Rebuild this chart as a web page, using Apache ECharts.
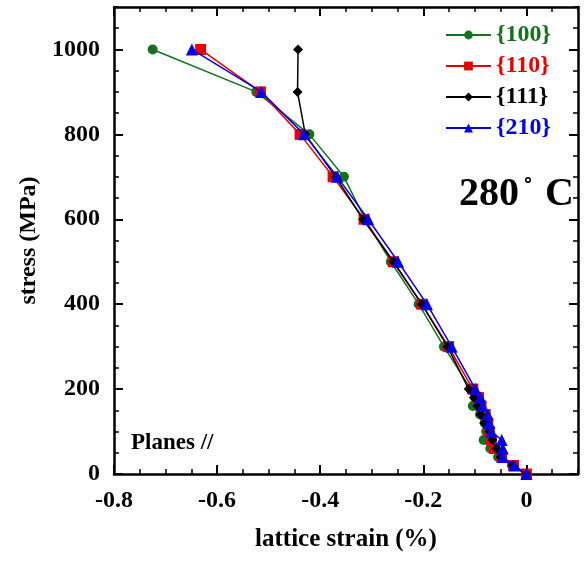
<!DOCTYPE html>
<html>
<head>
<meta charset="utf-8">
<script src="https://cdn.jsdelivr.net/npm/echarts@6/dist/echarts.min.js"></script>
<style>
  html, body { margin: 0; padding: 0; background: #fff; }
  #chart { width: 586px; height: 563px; }
</style>
</head>
<body>
<div id="chart"></div>
<script>
// stress levels (MPa), shared by all planes
var stress = [0, 20, 40, 60, 80, 100, 120, 140, 160, 180, 200, 300, 400, 500, 600, 700, 800, 900, 1000]
// lattice strain (%) per plane family, same order as stress
var strain100 = [0, -0.028, -0.055, -0.070, -0.083, -0.078, -0.081, -0.090, -0.104, -0.100, -0.108, -0.160, -0.209, -0.263, -0.313, -0.354, -0.421, -0.524, -0.725]
var strain110 = [0, -0.025, -0.048, -0.062, -0.068, -0.072, -0.075, -0.080, -0.088, -0.093, -0.104, -0.151, -0.203, -0.258, -0.315, -0.375, -0.439, -0.516, -0.632]
var strain111 = [0, -0.027, -0.050, -0.058, -0.066, -0.072, -0.082, -0.089, -0.095, -0.102, -0.112, -0.153, -0.203, -0.258, -0.317, -0.370, -0.429, -0.444, -0.443]
var strain210 = [0, -0.023, -0.046, -0.046, -0.048, -0.068, -0.072, -0.075, -0.085, -0.089, -0.099, -0.145, -0.193, -0.249, -0.307, -0.367, -0.431, -0.514, -0.649]
var planeNames = ['{100}', '{110}', '{111}', '{210}']
var xTicks = [-0.8, -0.6, -0.4, -0.2, 0]
var yTicks = [0, 200, 400, 600, 800, 1000]

var font = 'Liberation Serif'
var colors = ['#17701f', '#e60000', '#000000', '#0000e6']
var symbols = ['circle', 'rect', 'diamond', 'triangle']
var symbolSizes = [10, 11, 10, 12]

function pairs (xs) {
  return xs.map(function (x, i) { return [x, stress[i]] })
}

function xAxisDef (pos, major, withLabel) {
  return {
    type: 'value',
    position: pos,
    min: -0.8,
    max: 0.1,
    interval: 0.05,
    axisLine: { show: !major, onZero: false, lineStyle: { color: '#000', width: 2.5 } },
    axisTick: major
      ? { show: true, inside: true, length: 9, customValues: xTicks, lineStyle: { color: '#000', width: 2 } }
      : { show: true, inside: true, length: 5, lineStyle: { color: '#000', width: 1.5 } },
    axisLabel: withLabel
      ? {
          show: true, customValues: xTicks, margin: 15, color: '#000',
          fontFamily: font, fontWeight: 'bold', fontSize: 24,
          formatter: function (v) { return v === 0 ? '0' : String(Math.round(v * 10) / 10) }
        }
      : { show: false },
    splitLine: { show: false },
    name: withLabel ? 'lattice strain (%)' : '',
    nameLocation: 'middle',
    nameGap: 53,
    nameTextStyle: { fontFamily: font, fontWeight: 'bold', fontSize: 25, color: '#000' }
  }
}

function yAxisDef (pos, major, withLabel) {
  return {
    type: 'value',
    position: pos,
    min: 0,
    max: 1100,
    interval: 50,
    axisLine: { show: !major, onZero: false, lineStyle: { color: '#000', width: 2.5 } },
    axisTick: major
      ? { show: true, inside: true, length: 9, customValues: yTicks, lineStyle: { color: '#000', width: 2 } }
      : { show: true, inside: true, length: 5, lineStyle: { color: '#000', width: 1.5 } },
    axisLabel: withLabel
      ? {
          show: true, customValues: yTicks, margin: 14, color: '#000',
          fontFamily: font, fontWeight: 'bold', fontSize: 24,
          formatter: function (v) { return String(v) }
        }
      : { show: false },
    splitLine: { show: false },
    name: withLabel ? 'stress (MPa)' : '',
    nameLocation: 'middle',
    nameGap: 72,
    nameRotate: 90,
    nameTextStyle: { fontFamily: font, fontWeight: 'bold', fontSize: 24, color: '#000' }
  }
}

var allStrain = [strain100, strain110, strain111, strain210]
var series = allStrain.map(function (s, i) {
  return {
    name: planeNames[i],
    type: 'line',
    data: pairs(s),
    xAxisIndex: 0,
    yAxisIndex: 0,
    symbol: symbols[i],
    symbolSize: symbolSizes[i],
    showAllSymbol: true,
    lineStyle: { color: colors[i], width: 1.5 },
    itemStyle: { color: colors[i] },
    z: 2 + i
  }
})

var chart = echarts.init(document.getElementById('chart'))
chart.setOption({
  animation: false,
  grid: { left: 114, right: 8, top: 7, bottom: 89, containLabel: false },
  xAxis: [
    xAxisDef('bottom', false, true),
    xAxisDef('bottom', true, false),
    xAxisDef('top', false, false),
    xAxisDef('top', true, false)
  ],
  yAxis: [
    yAxisDef('left', false, true),
    yAxisDef('left', true, false),
    yAxisDef('right', false, false),
    yAxisDef('right', true, false)
  ],
  legend: {
    orient: 'vertical',
    left: 440,
    top: 18,
    itemWidth: 45,
    itemHeight: 11,
    itemGap: 7,
    data: planeNames.map(function (n, i) {
      return { name: n, textStyle: { color: colors[i] } }
    }),
    textStyle: { fontFamily: font, fontWeight: 'bold', fontSize: 24 }
  },
  graphic: [
    {
      type: 'text',
      left: 131,
      top: 432,
      style: { text: 'Planes //', fontFamily: font, fontWeight: 'bold', fontSize: 23, fill: '#000' }
    },
    {
      type: 'text',
      left: 459,
      top: 175,
      style: {
        text: '{a|280}{b|˚}{a|C}',
        rich: {
          a: { fontFamily: font, fontWeight: 'bold', fontSize: 40, fill: '#000' },
          b: { fontFamily: font, fontWeight: 'bold', fontSize: 30, fill: '#000', verticalAlign: 'top', padding: [0, 12, 0, 4] }
        }
      }
    }
  ],
  series: series
})
</script>
</body>
</html>
